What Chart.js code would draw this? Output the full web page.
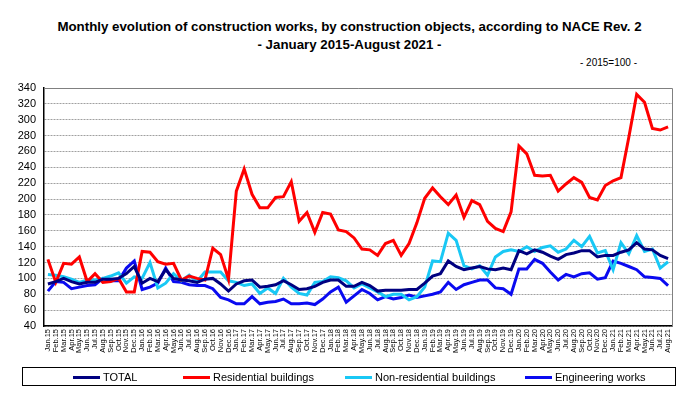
<!DOCTYPE html>
<html><head><meta charset="utf-8">
<script src="https://cdn.jsdelivr.net/npm/chart.js@4.4.0/dist/chart.umd.min.js"></script>
<style>
html,body{margin:0;padding:0;background:#fff;}
#wrap{position:relative;width:699px;height:405px;overflow:hidden;font-family:"Liberation Sans",Arial,sans-serif;color:#000;}
#title{position:absolute;left:0;width:699px;top:18px;text-align:center;font-weight:bold;font-size:13.3px;line-height:18px;font-family:"Liberation Sans Narrow","Arial Narrow","Liberation Sans",sans-serif;}
#sub{position:absolute;left:580px;top:57px;font-size:10px;}
canvas{position:absolute;left:0;top:0;}
#legend{position:absolute;left:22px;top:367px;width:654px;height:19px;border:1px solid #000;box-sizing:border-box;}
.li{position:absolute;top:0;height:19px;font-size:11px;line-height:19px;white-space:nowrap;}
.sw{display:inline-block;width:27px;height:3px;vertical-align:middle;margin-right:3px;position:relative;top:-1px;}
</style></head>
<body><div id="wrap">
<div id="title">Monthly evolution of construction works, by construction objects, according to NACE Rev. 2<br>- January 2015-August 2021 -</div>
<div id="sub">- 2015=100 -</div>
<canvas id="c" width="699" height="405"></canvas>
<div id="legend"></div>
</div>
<script>
const months = ["Jan","Feb","Mar","Apr","May","Jun","Jul","Aug","Sep","Oct","Nov","Dec"];
const years = ["15","16","17","18","19","20","21"];
const categories = [];
for (const y of years) for (const m of months) { if (categories.length < 80) categories.push(m + "." + y); }

const seriesNames = ["TOTAL", "Residential buildings", "Non-residential buildings", "Engineering works"];
const total = [93,96,100,96,93,95,95,99,99,100,106,115,
  94,100,96,111,100,98,97,95,99,100,93,84,
  93,97,98,89,90,92,97,92,86,87,90,95,
  98,98,90,90,95,91,84,85,85,85,86,86,
  94,103,106,122,115,111,113,115,112,111,113,111,
  135,131,136,133,128,124,130,132,135,135,127,129,
  129,133,136,145,137,136,129,125];
const residential = [124,95,119,118,127,96,106,95,96,100,83,83,
  134,133,121,118,119,98,103,100,98,138,130,99,
  210,238,206,189,189,202,203,222,172,183,158,183,
  181,161,159,151,137,136,129,144,148,129,144,170,
  201,214,203,193,205,177,198,193,172,163,159,184,
  267,257,230,229,230,210,219,227,221,202,199,217,
  223,227,278,332,322,289,287,291];
const nonResidential = [105,104,102,99,95,98,98,100,103,107,94,102,
  100,120,88,94,106,97,104,96,108,108,108,97,
  95,91,93,81,88,81,100,89,81,79,95,96,
  102,101,97,88,93,88,83,77,80,80,73,77,
  89,122,121,157,148,116,112,116,104,127,134,136,
  134,140,134,139,141,133,137,148,140,153,132,135,
  111,145,131,154,134,137,113,121];
const engineering = [84,96,95,87,89,91,92,100,97,97,113,122,
  86,89,94,113,96,95,92,91,91,87,76,73,
  68,68,77,68,70,71,74,68,68,69,67,74,
  83,89,70,78,86,81,73,77,74,76,79,76,
  78,80,83,95,86,92,95,98,98,88,87,80,
  112,112,124,119,108,98,105,102,106,107,99,101,
  122,119,115,111,102,101,100,91];
const yAxis = {min: 40, max: 340, step: 20};

const colors = ["#000080", "#FF0000", "#19C8F5", "#0A0AF0"];
const legendX = [50, 160, 322, 502];

const seriesData = [total, residential, nonResidential, engineering];
const datasets = seriesNames.map((n, i) => ({
  label: n, data: seriesData[i], borderColor: colors[i], backgroundColor: colors[i],
  borderWidth: 3, pointRadius: 0, tension: 0, fill: false
}));

const leg = document.getElementById('legend');
seriesNames.forEach((n, i) => {
  const d = document.createElement('div');
  d.className = 'li'; d.style.left = legendX[i] + 'px';
  d.innerHTML = '<span class="sw" style="background:' + colors[i] + '"></span>' + n;
  leg.appendChild(d);
});

const frame = {
  id: 'frame',
  beforeDatasetsDraw(chart) {
    const a = chart.chartArea, ctx = chart.ctx;
    ctx.save();
    ctx.strokeStyle = '#808080'; ctx.lineWidth = 1;
    ctx.beginPath();
    ctx.moveTo(a.left, a.top + 0.5); ctx.lineTo(a.right + 0.5, a.top + 0.5); ctx.lineTo(a.right + 0.5, a.bottom);
    ctx.stroke();
    ctx.restore();
  }
};

new Chart(document.getElementById('c'), {
  type: 'line',
  data: { labels: categories, datasets },
  plugins: [frame],
  options: {
    responsive: false, animation: false,
    layout: { padding: { left: 0, right: 27, top: 88, bottom: 49 } },
    plugins: { legend: { display: false }, title: { display: false }, tooltip: { enabled: false } },
    scales: {
      x: {
        offset: true,
        grid: { display: false, drawTicks: false },
        border: { color: '#000', width: 1.5 },
        ticks: { autoSkip: false, maxRotation: 90, minRotation: 90, padding: 3,
          font: { size: 7.5, family: 'Liberation Sans' }, color: '#000' },
        afterFit(s) { s.height = 30; }
      },
      y: {
        min: yAxis.min, max: yAxis.max,
        grid: { color: '#a0a0a0', lineWidth: 1, drawTicks: false },
        border: { color: '#000', width: 1.5, dash: [2, 1] },
        ticks: { stepSize: yAxis.step, autoSkip: false, padding: 8, font: { size: 11, family: 'Liberation Sans' }, color: '#000' },
        afterFit(s) { s.width = 44; }
      }
    }
  }
});
</script>
</body></html>
